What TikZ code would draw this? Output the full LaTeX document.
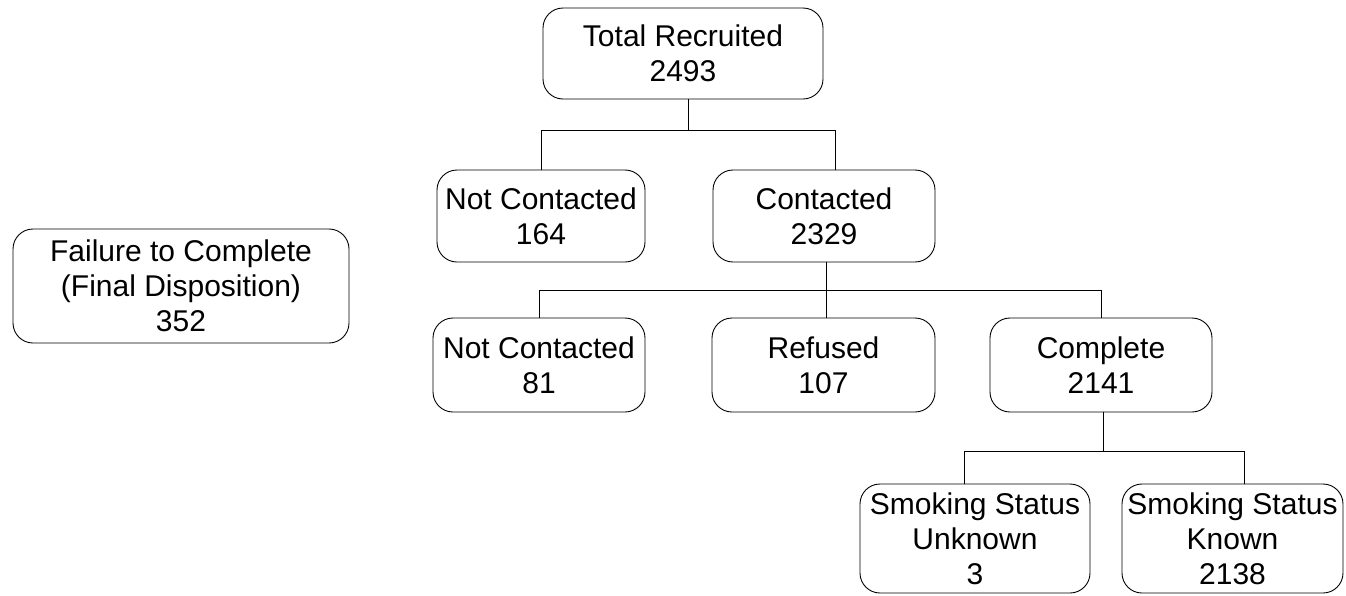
\documentclass[tikz,border=0pt]{standalone}
\usepackage{fontspec}
\setmainfont{Liberation Sans}
\begin{document}
\begin{tikzpicture}[x=1pt, y=-1pt, line width=0.9pt,
    box/.style={draw, rounded corners=20pt, align=center, inner sep=0pt,
        font=\fontsize{30}{35}\selectfont}]
    \useasboundingbox (0,0) rectangle (1346,595);

    % top level
    \node[box, minimum width=280pt, minimum height=91pt] (total) at (683, 53.5) {Total Recruited\\2493};

    % first split
    \node[box, minimum width=208pt, minimum height=92pt] (nc1) at (541, 216) {Not Contacted\\164};
    \node[box, minimum width=222pt, minimum height=92pt] (contacted) at (824, 216) {Contacted\\2329};

    % side box
    \node[box, minimum width=336pt, minimum height=114pt] (fail) at (181, 286) {Failure to Complete\\(Final Disposition)\\352};

    % second split
    \node[box, minimum width=212pt, minimum height=94pt] (nc2) at (539, 365) {Not Contacted\\81};
    \node[box, minimum width=223pt, minimum height=94pt] (refused) at (823.5, 365) {Refused\\107};
    \node[box, minimum width=222pt, minimum height=94pt] (complete) at (1101, 365) {Complete\\2141};

    % smoking status
    \node[box, minimum width=230pt, minimum height=109pt] (unknown) at (975, 538.5) {Smoking Status\\Unknown\\3};
    \node[box, minimum width=221pt, minimum height=109pt] (known) at (1232.5, 538.5) {Smoking Status\\Known\\2138};

    % connectors
    \draw ([xshift=5pt]total.south) -- ++(0,31) coordinate (j1);
    \draw (nc1.north) |- (j1) -| ([xshift=11pt]contacted.north);

    \draw ([xshift=2pt]contacted.south) -- ++(0,28) coordinate (j2);
    \draw (j2) -- (refused.north -| j2);
    \draw (nc2.north) |- (j2) -| (complete.north);

    \draw ([xshift=2pt]complete.south) -- ++(0,39) coordinate (j3);
    \draw ([xshift=-11pt]unknown.north) |- (j3) -| ([xshift=12pt]known.north);
\end{tikzpicture}
\end{document}
